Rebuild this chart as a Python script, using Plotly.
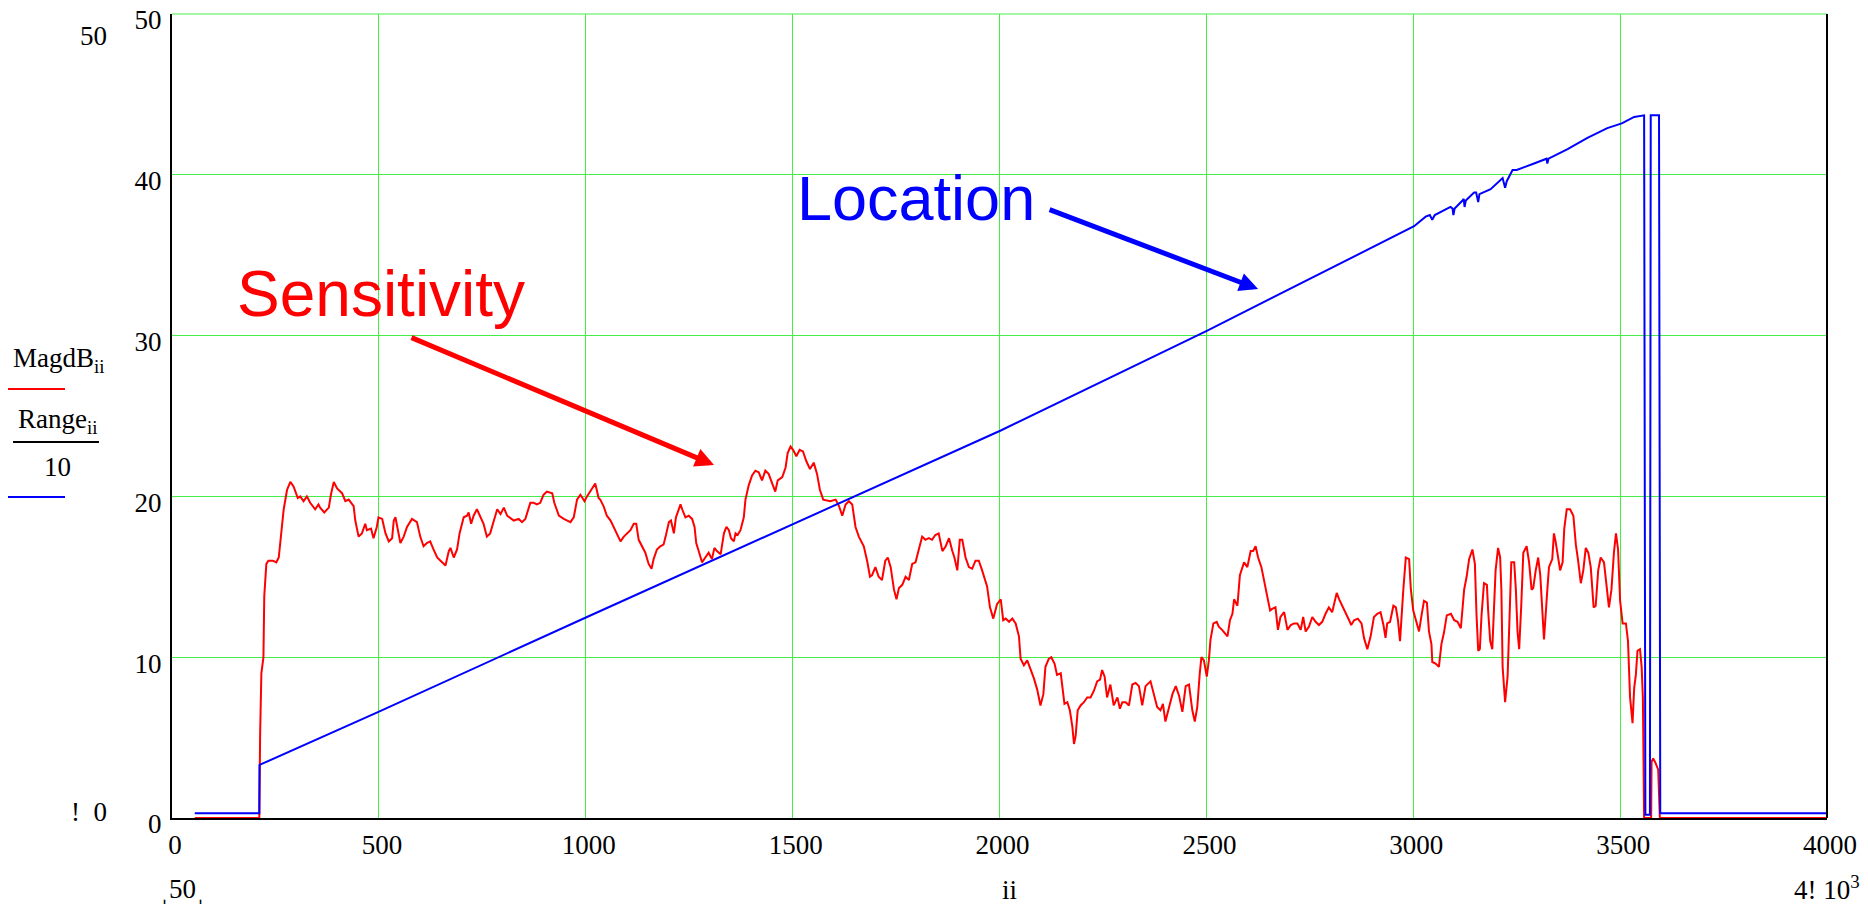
import plotly.graph_objects as go

# ---- data -------------------------------------------------------------
# index ii vs. MagdB_ii (sensitivity, dB)
sens_points = [
    (55, 0), (211, 0), (213, 5.2), (216, 9.0), (221, 10.0), (223, 13.8), (228, 15.8),
    (233, 16.0), (244, 16.0), (252, 15.9), (258, 16.2), (262, 17.1), (266, 17.9),
    (270, 19.2), (278, 20.4), (286, 20.9), (294, 20.6), (304, 19.9), (310, 20.0),
    (318, 19.7), (326, 20.0), (334, 19.6), (346, 19.2), (354, 19.5), (358, 19.3),
    (368, 19.0), (379, 19.3), (384, 20.1), (391, 20.9), (399, 20.5), (411, 20.2),
    (419, 19.7), (427, 19.8), (439, 19.4), (443, 18.5), (447, 17.9), (451, 17.5),
    (459, 17.7), (467, 18.3), (471, 17.9), (481, 18.0), (487, 17.4), (495, 18.1),
    (499, 18.7), (508, 18.6), (516, 17.7), (524, 17.2), (532, 17.4), (536, 18.5),
    (540, 18.7), (544, 18.1), (552, 17.1), (560, 17.5), (568, 18.1), (580, 18.6),
    (592, 18.4), (600, 17.5), (608, 16.9), (616, 17.1), (624, 17.2), (632, 16.7),
    (641, 16.2), (649, 16.0), (661, 15.7), (669, 16.6), (673, 16.8), (681, 16.2),
    (689, 16.7), (695, 17.7), (705, 18.7), (713, 18.8), (717, 19.0), (723, 18.3),
    (729, 18.8), (737, 19.2), (745, 18.7), (753, 18.3), (761, 17.5), (769, 17.7),
    (778, 18.5), (786, 19.2), (794, 18.9), (802, 19.3), (810, 18.8), (826, 18.5),
    (838, 18.6), (846, 18.4), (854, 18.6), (866, 19.6), (874, 19.6), (882, 19.5),
    (890, 19.6), (898, 20.1), (906, 20.3), (919, 20.2), (924, 19.6), (935, 18.8),
    (947, 18.6), (963, 18.4), (971, 18.7), (979, 19.8), (987, 20.1), (997, 19.7),
    (1003, 20.0), (1015, 20.5), (1023, 20.8), (1031, 19.9),
    (1035, 19.8), (1043, 19.4), (1051, 18.8), (1060, 18.5), (1072, 17.9), (1084, 17.2),
    (1092, 17.5), (1100, 17.7), (1108, 17.9), (1116, 18.3), (1122, 18.3), (1128, 17.3),
    (1136, 16.9), (1144, 16.5), (1152, 15.8), (1159, 15.5), (1164, 16.1), (1172, 16.7),
    (1180, 16.9), (1188, 17.0), (1193, 17.5), (1201, 18.4), (1206, 18.5), (1213, 17.7),
    (1218, 18.7), (1225, 19.3), (1229, 19.5), (1233, 19.2), (1241, 18.7), (1249, 18.8),
    (1257, 18.6), (1263, 18.1), (1267, 17.1), (1273, 16.6), (1281, 15.9), (1289, 16.2),
    (1297, 16.5), (1305, 16.1), (1311, 16.8), (1317, 16.6), (1326, 16.4), (1334, 17.7),
    (1340, 18.1), (1346, 17.9), (1351, 17.4), (1358, 17.2), (1362, 17.7), (1367, 17.6),
    (1374, 17.9), (1382, 18.7), (1386, 19.8), (1394, 20.7), (1402, 21.3), (1410, 21.6),
    (1418, 21.5), (1426, 21.0), (1434, 21.6), (1442, 21.4), (1450, 20.8), (1458, 20.3),
    (1464, 21.0), (1475, 21.2), (1483, 21.8), (1488, 22.7), (1495, 23.1), (1501, 22.9),
    (1509, 22.5), (1517, 22.9), (1525, 22.8), (1533, 22.2), (1542, 21.7), (1551, 22.1),
    (1559, 21.4), (1566, 20.4), (1574, 19.8), (1591, 19.7), (1604, 19.8), (1612, 19.4),
    (1620, 18.8), (1628, 19.5), (1636, 19.7), (1644, 19.5), (1652, 18.1), (1660, 17.5),
    (1672, 16.9), (1680, 16.0), (1687, 15.0), (1692, 15.1), (1700, 15.6), (1708, 15.0),
    (1716, 14.8), (1724, 16.0), (1730, 16.2), (1737, 15.6), (1745, 14.2), (1751, 13.6),
    (1757, 14.3), (1765, 14.5), (1773, 15.0), (1781, 14.8), (1789, 15.8), (1797, 15.9),
    (1805, 16.7), (1813, 17.5), (1821, 17.3), (1829, 17.4), (1837, 17.3), (1845, 17.6),
    (1853, 17.7), (1862, 16.6), (1870, 16.9), (1878, 17.4), (1886, 16.6), (1891, 16.2),
    (1898, 15.4), (1904, 17.3), (1910, 17.3), (1918, 16.2), (1926, 15.6), (1934, 15.5),
    (1942, 16.0), (1950, 16.0), (1958, 15.4), (1970, 14.4), (1977, 13.1), (1985, 12.4),
    (1994, 13.3), (2003, 13.6),
    (2009, 12.3), (2015, 12.4), (2023, 12.2), (2031, 12.4), (2039, 12.1), (2047, 11.3),
    (2051, 9.9), (2059, 9.5), (2067, 9.8), (2075, 9.3), (2083, 8.7), (2091, 8.0),
    (2099, 7.0), (2106, 7.7), (2111, 9.4), (2119, 9.9), (2125, 10.0), (2133, 9.6),
    (2139, 8.9), (2148, 9.0), (2152, 8.2), (2157, 7.1), (2164, 7.2), (2170, 6.7),
    (2176, 5.7), (2180, 4.6), (2184, 5.1), (2189, 6.7), (2196, 7.0), (2204, 7.2),
    (2212, 7.5), (2220, 7.5), (2228, 7.9), (2236, 8.5), (2243, 8.6), (2248, 9.2),
    (2254, 8.8), (2260, 7.5), (2268, 8.3), (2276, 7.0), (2285, 7.5), (2291, 6.8),
    (2297, 7.2), (2305, 7.2), (2313, 7.0), (2321, 8.3), (2329, 8.4), (2337, 8.2),
    (2345, 7.0), (2353, 8.2), (2365, 8.5), (2373, 7.7), (2381, 6.9), (2389, 6.7),
    (2395, 7.1), (2401, 6.0), (2409, 6.8), (2418, 7.7), (2426, 8.2), (2434, 7.6),
    (2442, 6.6), (2450, 8.2), (2458, 8.3), (2466, 6.7), (2472, 6.0), (2478, 6.9),
    (2484, 9.0), (2488, 10.0), (2494, 9.8), (2501, 8.8), (2506, 9.8), (2510, 11.1),
    (2517, 12.1), (2525, 12.2), (2530, 11.9), (2538, 11.7), (2551, 11.3), (2557, 12.3),
    (2563, 12.7), (2567, 13.6), (2575, 13.2), (2581, 15.1), (2591, 15.9), (2599, 15.6),
    (2607, 16.6), (2613, 16.6), (2619, 16.9), (2625, 16.2), (2633, 15.6), (2639, 14.9),
    (2647, 13.8), (2654, 12.9), (2659, 13.0), (2667, 13.1), (2673, 11.7), (2679, 12.5),
    (2688, 12.8), (2696, 11.7), (2704, 12.0), (2712, 12.1), (2720, 12.1), (2728, 11.7),
    (2734, 12.5), (2740, 11.6), (2748, 11.9), (2756, 12.5), (2764, 12.2), (2772, 12.0),
    (2780, 12.2), (2788, 12.7), (2796, 13.1), (2804, 12.8), (2815, 14.0), (2821, 13.6),
    (2829, 13.2), (2837, 12.7), (2845, 12.3), (2850, 12.0), (2857, 12.3), (2866, 12.4),
    (2875, 12.1), (2881, 11.2), (2889, 10.5), (2897, 11.3), (2905, 12.5), (2913, 12.7),
    (2921, 12.8), (2928, 12.0), (2933, 11.2), (2937, 12.1), (2944, 12.2), (2952, 13.2),
    (2958, 13.1), (2963, 12.3), (2968, 11.0),
    (2976, 14.2), (2982, 16.2), (2990, 16.1), (2994, 14.3), (3000, 12.9), (3006, 12.4),
    (3014, 11.6), (3020, 12.6), (3026, 13.5), (3033, 13.4), (3038, 11.6), (3044, 10.8),
    (3046, 9.7), (3054, 9.6), (3062, 9.4), (3068, 10.8), (3074, 11.5), (3081, 12.6),
    (3091, 12.7), (3099, 12.3), (3107, 12.2), (3115, 11.8), (3123, 14.2), (3129, 15.0),
    (3135, 16.1), (3143, 16.7), (3149, 15.8), (3153, 12.6), (3157, 10.4), (3161, 10.5),
    (3165, 12.6), (3171, 14.6), (3178, 14.5), (3181, 12.9), (3186, 11.0), (3191, 10.5),
    (3195, 13.2), (3199, 15.4), (3205, 16.8), (3210, 16.2), (3213, 14.2), (3216, 9.4),
    (3222, 7.2), (3228, 8.8), (3232, 11.9), (3237, 15.9), (3244, 15.9), (3248, 14.2),
    (3252, 11.6), (3256, 10.5), (3261, 13.2), (3266, 16.5), (3274, 16.9), (3280, 15.9),
    (3286, 14.2), (3290, 14.3), (3296, 15.4), (3302, 16.2), (3307, 15.1), (3312, 12.9),
    (3316, 11.1), (3323, 13.8), (3328, 15.6), (3336, 16.1), (3340, 17.7), (3344, 17.2),
    (3350, 16.1), (3355, 15.4), (3361, 15.9), (3365, 18.0), (3371, 19.2), (3379, 19.2),
    (3387, 18.8), (3393, 17.0), (3398, 16.1), (3405, 14.6), (3411, 15.4), (3417, 16.8),
    (3423, 16.5), (3429, 15.6), (3436, 13.1), (3441, 13.2), (3447, 15.4), (3453, 16.2),
    (3461, 15.9), (3468, 14.2), (3473, 13.1), (3479, 14.2), (3485, 16.5), (3490, 17.7),
    (3495, 16.7), (3500, 13.5), (3506, 12.1), (3514, 12.1), (3519, 11.0), (3524, 7.5),
    (3530, 5.9), (3534, 8.1), (3538, 8.9), (3542, 10.4), (3548, 10.5), (3552, 9.4),
    (3555, 7.5), (3558, 0), (3575, 0), (3576, 3.5), (3580, 3.7), (3586, 3.4),
    (3592, 3.0), (3596, 0), (4000, 0),
]

# index ii vs. Range_ii / 10 (location)
loc_points = [
    (55, 0.3), (211, 0.3), (211.5, 3.3), (499, 6.6), (1003, 12.5), (1503, 18.3),
    (2003, 24.1), (2501, 30.3), (3002, 36.8), (3030, 37.4),
    (3040, 37.5), (3046, 37.2), (3052, 37.5), (3090, 38.0), (3095, 37.9), (3097, 37.5),
    (3100, 37.9), (3119, 38.4), (3122, 38.5), (3124, 38.0), (3127, 38.4), (3147, 38.9),
    (3152, 38.9), (3157, 38.3), (3160, 38.8), (3187, 39.1), (3212, 39.7), (3216, 39.8),
    (3222, 39.2), (3226, 39.6), (3240, 40.3), (3250, 40.3), (3292, 40.7), (3322, 41.0),
    (3324, 40.7), (3327, 41.0), (3373, 41.6), (3421, 42.3), (3469, 42.9), (3504, 43.2),
    (3534, 43.6), (3558, 43.7), (3561, 0.2), (3572, 0.2), (3574, 43.7), (3594, 43.7),
    (3597, 0.3), (4000, 0.3),
]

x_ticks = [0, 500, 1000, 1500, 2000, 2500, 3000, 3500, 4000]
y_ticks = [0, 10, 20, 30, 40, 50]

# ---- layout geometry (pixels) -----------------------------------------
FIG_W, FIG_H = 1868, 906
L, R, T, B = 172, 41, 14, 88
PW, PH = FIG_W - L - R, FIG_H - T - B


def px(xp):
    return (xp - L) / PW


def py(yp):
    return (FIG_H - B - yp) / PH


SERIF = "Liberation Serif, Times New Roman, serif"
SANS = "Liberation Sans, Arial, sans-serif"
GRID = "#44ee44"

sx, sy = zip(*sens_points)
lx, ly = zip(*loc_points)

fig = go.Figure()
fig.add_trace(go.Scatter(x=sx, y=sy, mode="lines", name="MagdB",
                         line=dict(color="#ff0000", width=2), hoverinfo="skip"))
fig.add_trace(go.Scatter(x=lx, y=ly, mode="lines", name="Range/10",
                         line=dict(color="#0000ff", width=2), hoverinfo="skip"))

fig.update_xaxes(range=[0, 4000], tickvals=x_ticks, ticktext=[str(v) for v in x_ticks],
                 showgrid=True, gridcolor=GRID, gridwidth=1, zeroline=False,
                 showline=True, linecolor="black", linewidth=2, ticks="",
                 tickfont=dict(family=SERIF, size=27, color="black"),
                 ticklabelstandoff=2, ticklabelshift=3, automargin=False)
fig.update_yaxes(range=[0, 50], tickvals=y_ticks, ticktext=[str(v) for v in y_ticks],
                 showgrid=True, gridcolor=GRID, gridwidth=1, zeroline=False,
                 showline=True, linecolor="black", linewidth=2, ticks="",
                 tickfont=dict(family=SERIF, size=27, color="black"),
                 ticklabelstandoff=3, ticklabelshift=6, ticklabeloverflow="allow",
                 automargin=False)

shapes = [
    # top grid edge and right frame
    dict(type="line", xref="paper", yref="paper", x0=0, x1=1, y0=1, y1=1,
         line=dict(color=GRID, width=1), layer="below"),
    dict(type="line", xref="paper", yref="paper", x0=1, x1=1, y0=0, y1=1,
         line=dict(color="black", width=2)),
    # trace keys in the left margin
    dict(type="line", xref="paper", yref="paper", x0=px(8), x1=px(65), y0=py(389), y1=py(389),
         line=dict(color="#ff0000", width=2)),
    dict(type="line", xref="paper", yref="paper", x0=px(13), x1=px(99), y0=py(442), y1=py(442),
         line=dict(color="black", width=2)),
    dict(type="line", xref="paper", yref="paper", x0=px(8), x1=px(65), y0=py(497), y1=py(497),
         line=dict(color="#0000ff", width=2)),
]


def label(text, xp, yp, xanchor="center", size=27, color="black", family=SERIF):
    return dict(text=text, xref="paper", yref="paper", x=px(xp), y=py(yp),
                xanchor=xanchor, yanchor="middle", showarrow=False,
                font=dict(family=family, size=size, color=color))


annotations = [
    label("50", 109, 36, xanchor="right"),
    label("!  0", 109, 812, xanchor="right"),
    label("MagdB<sub>ii</sub>", 11, 360, xanchor="left"),
    label("Range<sub>ii</sub>", 16, 421, xanchor="left"),
    label("10", 57, 467),
    label("ˌ50ˌ", 182, 889),
    label("ii", 1009, 890),
    label("4! 10<sup>3</sup>", 1792, 888, xanchor="left"),
    label("Sensitivity", 235, 294, xanchor="left", size=64, color="#ff0000", family=SANS),
    label("Location", 795, 198, xanchor="left", size=63, color="#0000ff", family=SANS),
    # arrows pointing at the two curves
    dict(x=1310, y=21.95, xref="x", yref="y", ax=-304, ay=-128, axref="pixel", ayref="pixel",
         text="", showarrow=True, arrowhead=2, arrowsize=0.75, arrowwidth=5,
         arrowcolor="#ff0000"),
    dict(x=2625, y=32.9, xref="x", yref="y", ax=-210, ay=-80, axref="pixel", ayref="pixel",
         text="", showarrow=True, arrowhead=2, arrowsize=0.75, arrowwidth=5,
         arrowcolor="#0000ff"),
]

fig.update_layout(width=FIG_W, height=FIG_H, margin=dict(l=L, r=R, t=T, b=B),
                  paper_bgcolor="white", plot_bgcolor="white", showlegend=False,
                  shapes=shapes, annotations=annotations)

fig.write_html("out.html")
